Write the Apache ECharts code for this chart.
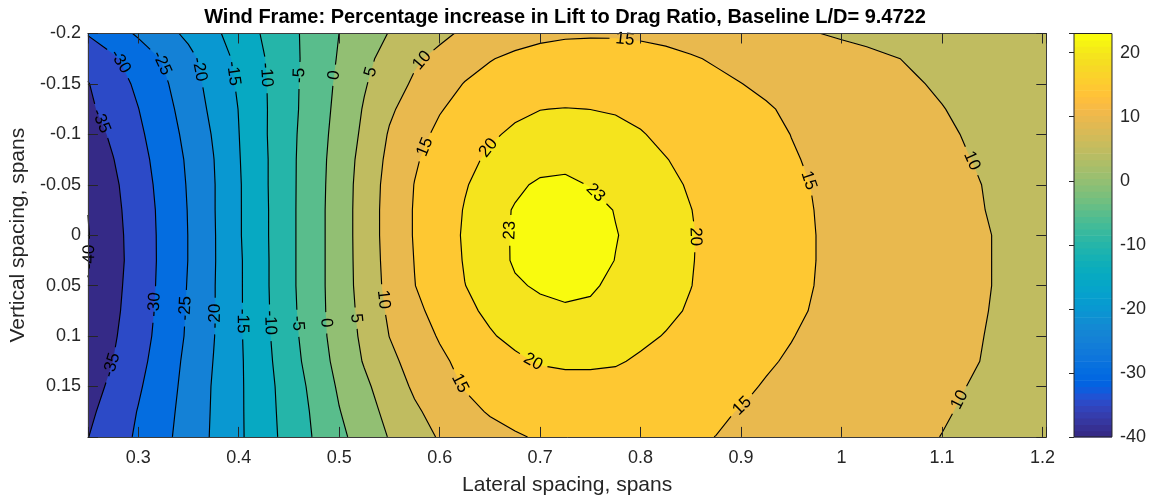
<!DOCTYPE html>
<html>
<head>
<meta charset="utf-8">
<script src="https://cdn.jsdelivr.net/npm/echarts@6.0.0/dist/echarts.min.js"></script>
<style>
html,body{margin:0;padding:0;background:#ffffff;}
#chart{width:1149px;height:502px;}
</style>
</head>
<body>
<div id="chart"></div>
<script>
// ---------------- data ----------------
const lateralSpacing = [0.25,0.275,0.3,0.325,0.35,0.375,0.4,0.425,0.45,0.475,0.5,0.525,0.55,0.575,0.6,0.625,0.65,0.675,0.7,0.725,0.75,0.775,0.8,0.825,0.85,0.875,0.9,0.925,0.95,0.975,1.0,1.025,1.05,1.075,1.1,1.125,1.15,1.175,1.2037];
const verticalSpacing = [-0.2,-0.175,-0.15,-0.125,-0.1,-0.075,-0.05,-0.025,0,0.025,0.05,0.075,0.1,0.125,0.15,0.175,0.2];
// percentage increase in L/D, one row per vertical spacing, one column per lateral spacing
const liftDragIncrease = [
 [-29.7,-27.1,-24.4,-21.7,-19.0,-16.0,-12.8,-9.5,-6.3,-3.2,0.02,2.6,5.2,7.1,8.9,10.8,12.1,13.3,14.1,14.5,14.6,14.6,14.4,14.1,13.6,13.0,12.3,11.6,10.9,10.1,9.5,9.0,8.5,8.1,7.8,7.5,7.2,7.0,6.8],
 [-33.3,-30.7,-27.7,-24.6,-21.3,-17.6,-13.9,-10.2,-6.6,-3.0,0.4,3.8,6.7,9.3,11.3,13.1,14.8,15.8,16.4,16.7,16.8,16.7,16.4,15.9,15.3,14.65,14.0,13.4,12.8,12.1,11.5,10.9,10.2,9.6,9.1,8.7,8.3,8.0,7.7],
 [-35.2,-32.2,-29.1,-25.8,-22.1,-18.3,-14.4,-10.5,-6.5,-2.8,0.9,4.6,7.8,10.7,13.0,15.2,16.3,17.2,17.9,18.3,18.3,18.1,17.7,17.1,16.4,15.7,15.05,14.4,13.7,13.0,12.3,11.6,10.9,10.2,9.6,9.1,8.7,8.4,8.1],
 [-35.9,-33.1,-30.1,-26.7,-22.9,-18.9,-14.9,-10.6,-6.5,-2.6,1.3,5.4,9.3,12.1,14.7,16.5,17.9,19.3,19.95,20.1,19.98,19.7,19.2,18.6,17.9,17.1,16.2,15.3,14.5,13.7,13.0,12.3,11.6,10.8,10.1,9.4,8.9,8.6,8.3],
 [-37.3,-34.2,-30.9,-27.4,-23.7,-19.6,-15.1,-10.6,-6.3,-2.3,1.7,6.0,10.4,13.4,16.0,17.9,19.5,20.6,21.1,21.3,21.3,21.0,20.2,19.3,18.5,17.7,16.8,15.9,14.95,14.2,13.5,12.8,12.0,11.3,10.5,9.8,9.2,8.8,8.4],
 [-38.6,-35.15,-31.6,-28.1,-24.3,-20.1,-15.3,-10.8,-6.2,-2.1,2.1,6.7,11.1,14.5,16.9,19.0,20.6,21.4,22.0,22.3,22.2,21.9,21.2,20.1,19.2,18.3,17.3,16.3,15.3,14.5,13.8,13.1,12.3,11.6,10.9,10.1,9.5,9.0,8.5],
 [-39.5,-35.9,-32.2,-28.5,-24.6,-20.3,-15.5,-10.8,-6.2,-2.0,2.3,7.1,11.6,15.1,17.6,19.75,21.4,22.5,23.4,23.5,22.9,22.2,21.5,20.7,19.7,18.9,17.9,16.9,15.9,14.7,14.0,13.3,12.5,11.8,11.1,10.4,9.7,9.1,8.6],
 [-39.95,-36.3,-32.6,-28.8,-24.8,-20.3,-15.5,-10.9,-6.2,-1.9,2.4,7.2,11.8,15.3,18.0,20.2,21.9,23.2,23.9,24.1,23.8,22.9,22.1,21.1,20.05,19.0,17.9,16.9,15.9,14.9,14.2,13.5,12.8,12.0,11.3,10.5,9.8,9.2,8.6],
 [-40.2,-36.6,-32.8,-28.9,-24.9,-20.4,-15.5,-10.9,-6.2,-1.9,2.4,7.2,11.8,15.3,18.1,20.4,21.9,23.3,24.0,24.2,23.9,23.1,22.3,21.3,20.2,19.1,18.1,17.1,16.0,14.98,14.3,13.6,12.8,12.1,11.4,10.7,9.98,9.3,8.5],
 [-40.2,-36.7,-32.9,-28.9,-24.9,-20.4,-15.7,-11.0,-6.2,-1.9,2.4,7.1,11.6,15.1,17.9,20.25,21.8,23.3,23.9,24.1,23.9,22.95,22.2,21.2,20.15,19.1,18.1,17.1,16.0,14.98,14.3,13.6,12.9,12.2,11.4,10.7,9.98,9.3,8.6],
 [-39.9,-36.4,-32.7,-28.8,-24.7,-20.3,-15.7,-11.0,-6.2,-1.9,2.4,6.95,11.35,14.9,17.6,19.95,21.3,22.7,23.3,23.6,23.3,22.5,21.7,20.8,20.05,19.0,17.9,16.9,15.9,14.9,14.2,13.5,12.8,12.1,11.4,10.7,9.98,9.3,8.6],
 [-39.5,-36.1,-32.4,-28.6,-24.5,-20.3,-15.7,-11.1,-6.4,-2.0,2.3,6.5,10.75,13.8,16.7,19.3,20.6,21.7,22.4,22.7,22.6,22.2,21.5,20.6,19.7,18.6,17.6,16.6,15.6,14.7,14.0,13.3,12.6,11.9,11.2,10.55,9.9,9.3,8.6],
 [-39.0,-35.6,-32.0,-28.3,-24.3,-20.2,-15.7,-11.2,-6.8,-2.2,2.1,6.0,10.06,12.7,15.4,17.6,19.7,20.8,21.4,21.6,21.5,21.1,20.6,19.85,19.0,18.0,17.0,16.0,15.1,14.4,13.7,13.1,12.4,11.7,11.1,10.4,9.8,9.2,8.5],
 [-38.0,-34.98,-31.4,-27.7,-23.8,-19.9,-15.8,-11.5,-7.2,-2.8,1.55,5.35,8.9,11.7,14.1,16.3,17.9,19.4,20.3,20.5,20.45,20.3,19.6,18.8,17.9,17.0,16.1,15.3,14.7,14.0,13.4,12.8,12.2,11.6,11.0,10.3,9.7,9.1,8.4],
 [-37.0,-34.0,-30.6,-27.1,-23.5,-19.6,-15.8,-11.8,-7.8,-3.7,0.65,4.05,7.5,10.7,13.0,15.3,16.6,17.7,18.5,19.0,19.1,18.9,18.4,17.8,17.0,16.2,15.45,14.8,14.2,13.6,13.0,12.4,11.8,11.2,10.6,9.98,9.4,8.9,8.3],
 [-36.0,-33.0,-29.8,-26.6,-23.2,-19.5,-15.8,-11.9,-8.1,-4.3,-0.2,3.1,6.3,9.3,11.6,13.65,15.4,16.3,16.9,17.3,17.4,17.3,16.9,16.4,15.8,15.3,14.9,14.3,13.8,13.2,12.6,12.0,11.4,10.8,10.25,9.7,9.2,8.7,8.2],
 [-35.1,-32.25,-29.3,-26.2,-22.9,-19.4,-15.8,-12.1,-8.3,-4.7,-1.1,2.15,5.25,7.9,10.4,11.9,13.3,14.6,15.4,15.7,15.85,15.8,15.7,15.5,15.25,14.98,14.4,13.8,13.2,12.6,12.0,11.5,11.0,10.45,9.95,9.4,8.9,8.5,8.0]
];
const contourLevels = [-40,-35,-30,-25,-20,-15,-10,-5,0,5,10,15,20,23];
const colorLimits = [-40, 23];
const PARULA = [
[0.2081,0.1663,0.5292],[0.2116,0.1898,0.5777],[0.2123,0.2138,0.6270],[0.2081,0.2386,0.6771],
[0.1959,0.2645,0.7279],[0.1707,0.2919,0.7792],[0.1253,0.3242,0.8303],[0.0591,0.3598,0.8683],
[0.0117,0.3875,0.8820],[0.0060,0.4086,0.8828],[0.0165,0.4266,0.8786],[0.0329,0.4430,0.8720],
[0.0498,0.4586,0.8641],[0.0629,0.4737,0.8554],[0.0723,0.4887,0.8467],[0.0779,0.5040,0.8384],
[0.0793,0.5200,0.8312],[0.0749,0.5375,0.8263],[0.0641,0.5570,0.8240],[0.0488,0.5772,0.8228],
[0.0343,0.5966,0.8199],[0.0265,0.6137,0.8135],[0.0239,0.6287,0.8038],[0.0231,0.6418,0.7913],
[0.0228,0.6535,0.7768],[0.0267,0.6642,0.7607],[0.0384,0.6743,0.7436],[0.0590,0.6838,0.7254],
[0.0843,0.6928,0.7062],[0.1133,0.7015,0.6859],[0.1453,0.7098,0.6646],[0.1801,0.7177,0.6424],
[0.2178,0.7250,0.6193],[0.2586,0.7317,0.5954],[0.3022,0.7376,0.5712],[0.3482,0.7424,0.5473],
[0.3953,0.7459,0.5244],[0.4420,0.7481,0.5033],[0.4871,0.7491,0.4840],[0.5300,0.7491,0.4661],
[0.5709,0.7485,0.4494],[0.6099,0.7473,0.4337],[0.6473,0.7456,0.4188],[0.6834,0.7435,0.4044],
[0.7184,0.7411,0.3905],[0.7525,0.7384,0.3768],[0.7858,0.7356,0.3633],[0.8185,0.7327,0.3498],
[0.8507,0.7299,0.3360],[0.8824,0.7274,0.3217],[0.9139,0.7258,0.3063],[0.9450,0.7261,0.2886],
[0.9739,0.7314,0.2666],[0.9938,0.7455,0.2403],[0.9990,0.7653,0.2164],[0.9955,0.7861,0.1967],
[0.9880,0.8066,0.1794],[0.9789,0.8271,0.1633],[0.9697,0.8481,0.1475],[0.9626,0.8705,0.1309],
[0.9589,0.8949,0.1132],[0.9598,0.9218,0.0948],[0.9661,0.9514,0.0755],[0.9763,0.9831,0.0538]
];
const titleText = 'Wind Frame: Percentage increase in Lift to Drag Ratio, Baseline L/D= 9.4722';
const xName = 'Lateral spacing, spans';
const yName = 'Vertical spacing, spans';

// ---------------- helpers ----------------
const FONT = '"Liberation Sans", Arial, Helvetica, sans-serif';
const AX = '#262626';
const nx = lateralSpacing.length, ny = verticalSpacing.length;

function rgb(c){ return 'rgb(' + Math.round(c[0]*255) + ',' + Math.round(c[1]*255) + ',' + Math.round(c[2]*255) + ')'; }
function levelColor(L){
  const m = PARULA.length;
  let idx = Math.floor((L - colorLimits[0]) / (colorLimits[1] - colorLimits[0]) * m);
  idx = Math.max(0, Math.min(m - 1, idx));
  return rgb(PARULA[idx]);
}
function gridPoint(g){ return [lateralSpacing[g[0]], verticalSpacing[g[1]]]; }
function val(g){ return liftDragIncrease[g[1]][g[0]]; }
function crossing(a, b, L){
  const va = val(a), vb = val(b), t = (L - va) / (vb - va);
  const pa = gridPoint(a), pb = gridPoint(b);
  return [pa[0] + t*(pb[0]-pa[0]), pa[1] + t*(pb[1]-pa[1])];
}
function edgeKey(a, b){ return (a[1] === b[1] ? 'h' : 'v') + Math.min(a[0],b[0]) + '_' + Math.min(a[1],b[1]); }
function corners(i, j){ return [[i,j],[i+1,j],[i+1,j+1],[i,j+1]]; }

function superLevelPolygons(L){
  const polys = [];
  for (let j = 0; j < ny-1; j++) for (let i = 0; i < nx-1; i++){
    const c = corners(i, j), out = [];
    for (let e = 0; e < 4; e++){
      const a = c[e], b = c[(e+1)%4];
      const ia = val(a) >= L, ib = val(b) >= L;
      if (ia) out.push(gridPoint(a));
      if (ia !== ib) out.push(crossing(a, b, L));
    }
    if (out.length >= 3) polys.push(out);
  }
  return polys;
}
function contourSegments(L){
  const segs = [];
  for (let j = 0; j < ny-1; j++) for (let i = 0; i < nx-1; i++){
    const c = corners(i, j), ev = [];
    for (let e = 0; e < 4; e++){
      const a = c[e], b = c[(e+1)%4];
      const ia = val(a) >= L, ib = val(b) >= L;
      if (ia && !ib) ev.push({exit: true, k: edgeKey(a,b), p: crossing(a,b,L)});
      else if (!ia && ib) ev.push({exit: false, k: edgeKey(a,b), p: crossing(a,b,L)});
    }
    for (let q = 0; q < ev.length; q++) if (ev[q].exit){
      const en = ev[(q+1) % ev.length];
      segs.push({k0: en.k, p0: en.p, k1: ev[q].k, p1: ev[q].p});
    }
  }
  return segs;
}
function contourChains(L){
  const segs = contourSegments(L);
  const byStart = new Map(), endKeys = new Set(), used = new Set(), out = [];
  segs.forEach(s => { byStart.set(s.k0, s); endKeys.add(s.k1); });
  const walk = s0 => {
    const pts = [s0.p0]; let s = s0, closed = false;
    while (s && !used.has(s)){
      used.add(s); pts.push(s.p1);
      const n = byStart.get(s.k1);
      if (n === s0){ closed = true; break; }
      s = n;
    }
    return {pts, closed};
  };
  segs.forEach(s => { if (!endKeys.has(s.k0) && !used.has(s)) out.push(walk(s)); });
  segs.forEach(s => { if (!used.has(s)) out.push(walk(s)); });
  return out;
}
const LABEL_SIZE = 17;
function labelWidth(t){ let w = 0; for (const ch of t) w += (ch === '-' ? 0.333 : 0.556); return w * LABEL_SIZE; }

function renderContours(params, api){
  const children = [];
  const P = p => api.coord(p);
  const tl = P([lateralSpacing[0], verticalSpacing[0]]);
  const br = P([lateralSpacing[nx-1], verticalSpacing[ny-1]]);
  children.push({type: 'rect', silent: true,
    shape: {x: Math.min(tl[0],br[0]), y: Math.min(tl[1],br[1]), width: Math.abs(br[0]-tl[0]), height: Math.abs(br[1]-tl[1])},
    style: {fill: levelColor(contourLevels[0])}});
  // filled bands, painted from low to high level
  contourLevels.forEach(L => {
    let d = '';
    superLevelPolygons(L).forEach(poly => {
      poly.forEach((p, k) => { const q = P(p); d += (k ? 'L' : 'M') + q[0].toFixed(2) + ' ' + q[1].toFixed(2); });
      d += 'Z';
    });
    if (d) children.push({type: 'path', silent: true, shape: {pathData: d}, style: {fill: levelColor(L), stroke: null}});
  });
  // contour lines with inline labels
  let lineD = '';
  const labels = [];
  contourLevels.forEach(L => {
    const text = String(L);
    const hw = labelWidth(text) / 2 + 6;
    contourChains(L).forEach(ch => {
      let pts = ch.pts.map(P);
      if (ch.closed){
        pts = pts.slice(0, -1);
        let m = 0; pts.forEach((p, k) => { if (p[1] < pts[m][1]) m = k; });
        pts = pts.slice(m).concat(pts.slice(0, m)); pts.push(pts[0]);
      }
      const cum = [0];
      for (let k = 1; k < pts.length; k++) cum.push(cum[k-1] + Math.hypot(pts[k][0]-pts[k-1][0], pts[k][1]-pts[k-1][1]));
      const total = cum[cum.length-1];
      const at = s => {
        s = Math.max(0, Math.min(total, s));
        let k = 1; while (k < cum.length-1 && cum[k] < s) k++;
        const seg = cum[k] - cum[k-1] || 1, t = (s - cum[k-1]) / seg;
        return [pts[k-1][0] + t*(pts[k][0]-pts[k-1][0]), pts[k-1][1] + t*(pts[k][1]-pts[k-1][1])];
      };
      const start = ch.closed ? 90 : 42, step = 248, endMargin = ch.closed ? 30 : 12;
      const gaps = [];
      for (let s = start; s < total - endMargin; s += step){
        const p = at(s), a = at(s - 7), b = at(s + 7);
        let ang = Math.atan2(b[1]-a[1], b[0]-a[0]);
        if (ang > Math.PI/2) ang -= Math.PI; else if (ang <= -Math.PI/2) ang += Math.PI;
        labels.push({x: p[0], y: p[1], rot: -ang, text});
        gaps.push([s - hw, s + hw]);
      }
      const keep = []; let s0 = 0;
      gaps.forEach(g => { if (g[0] > s0) keep.push([s0, g[0]]); s0 = Math.max(s0, g[1]); });
      if (s0 < total) keep.push([s0, total]);
      keep.forEach(([a, b]) => {
        const pa = at(a); lineD += 'M' + pa[0].toFixed(2) + ' ' + pa[1].toFixed(2);
        for (let k = 1; k < pts.length-1; k++) if (cum[k] > a && cum[k] < b) lineD += 'L' + pts[k][0].toFixed(2) + ' ' + pts[k][1].toFixed(2);
        const pb = at(b); lineD += 'L' + pb[0].toFixed(2) + ' ' + pb[1].toFixed(2);
      });
    });
  });
  children.push({type: 'path', silent: true, shape: {pathData: lineD}, style: {fill: null, stroke: '#000', lineWidth: 1.15}});
  labels.forEach(l => children.push({type: 'text', silent: true, x: l.x, y: l.y, rotation: l.rot,
    style: {text: l.text, fill: '#000', font: LABEL_SIZE + 'px ' + FONT, align: 'center', verticalAlign: 'middle', textAlign: 'center', textVerticalAlign: 'middle'}}));
  return {type: 'group', children};
}

function renderColorbar(params, api){
  const children = [], n = PARULA.length, c0 = colorLimits[0], c1 = colorLimits[1];
  for (let k = 0; k < n; k++){
    const v0 = c0 + k*(c1-c0)/n, v1 = c0 + (k+1)*(c1-c0)/n;
    const a = api.coord([0, v0]), b = api.coord([1, v1]);
    children.push({type: 'rect', silent: true, shape: {x: a[0], y: b[1], width: b[0]-a[0], height: a[1]-b[1] + 0.6}, style: {fill: rgb(PARULA[k])}});
  }
  const a = api.coord([0, c0]), b = api.coord([1, c1]);
  children.push({type: 'rect', silent: true, shape: {x: a[0], y: b[1], width: b[0]-a[0], height: a[1]-b[1]}, style: {fill: null, stroke: AX, lineWidth: 1}});
  return {type: 'group', children};
}

const xFmt = v => { const r = Math.round(v*10)/10; return Math.abs(v - r) < 1e-6 ? String(r) : ''; };
const yFmt = v => v > 0.1999 ? '' : String(Math.round(v*1000)/1000);
const cFmt = v => v > 20.5 ? '' : String(Math.round(v));

const axisLineStyle = {show: true, onZero: false, lineStyle: {color: '#3c3c3c', width: 1}};
const tickInside = len => ({show: true, inside: true, length: len, lineStyle: {color: AX, width: 1}});
const labelStyle = (fmt, margin) => ({show: true, color: AX, fontSize: 18, fontFamily: FONT, margin, formatter: fmt});

const option = {
  animation: false,
  backgroundColor: '#ffffff',
  grid: [
    {left: 85, top: 33.5, width: 961.3, height: 403.4},
    {left: 1074, top: 33.5, width: 39, height: 403.4}
  ],
  xAxis: [
    {gridIndex: 0, type: 'value', min: lateralSpacing[0], max: lateralSpacing[nx-1], splitNumber: 10, position: 'bottom', z: 10,
     axisLine: axisLineStyle, axisTick: tickInside(10), axisLabel: labelStyle(xFmt, 12), splitLine: {show: false},
     name: xName, nameLocation: 'middle', nameGap: 38, nameTextStyle: {fontSize: 21, color: AX, fontFamily: FONT}},
    {gridIndex: 0, type: 'value', min: lateralSpacing[0], max: lateralSpacing[nx-1], splitNumber: 10, position: 'top', z: 10,
     axisLine: axisLineStyle, axisTick: tickInside(10), axisLabel: {show: false}, splitLine: {show: false}},
    {gridIndex: 1, type: 'value', min: 0, max: 1, show: false}
  ],
  yAxis: [
    {gridIndex: 0, type: 'value', min: -0.2, max: 0.2, interval: 0.05, inverse: true, position: 'left', z: 10,
     axisLine: axisLineStyle, axisTick: tickInside(10), axisLabel: labelStyle(yFmt, 7), splitLine: {show: false},
     name: yName, nameLocation: 'middle', nameGap: 56, nameTextStyle: {fontSize: 21, color: AX, fontFamily: FONT}},
    {gridIndex: 0, type: 'value', min: -0.2, max: 0.2, interval: 0.05, inverse: true, position: 'right', z: 10,
     axisLine: axisLineStyle, axisTick: tickInside(10), axisLabel: {show: false}, splitLine: {show: false}},
    {gridIndex: 1, type: 'value', min: colorLimits[0], max: colorLimits[1], interval: 10, position: 'right', z: 10,
     axisLine: {show: false}, axisTick: tickInside(5), axisLabel: labelStyle(cFmt, 8), splitLine: {show: false}}
  ],
  graphic: [
    {type: 'text', x: 565, y: 17, silent: true,
     style: {text: titleText, fill: '#000', font: 'bold 20px ' + FONT, align: 'center', verticalAlign: 'middle', textAlign: 'center', textVerticalAlign: 'middle'}}
  ],
  series: [
    {type: 'custom', xAxisIndex: 0, yAxisIndex: 0, z: 2, silent: true, clip: false,
     renderItem: renderContours, data: [[0.5, 0]]},
    {type: 'custom', xAxisIndex: 2, yAxisIndex: 2, z: 2, silent: true, clip: false,
     renderItem: renderColorbar, data: [[0.5, 0]]}
  ]
};
const chart = echarts.init(document.getElementById('chart'), null, {renderer: 'canvas'});
chart.setOption(option);
</script>
</body>
</html>
